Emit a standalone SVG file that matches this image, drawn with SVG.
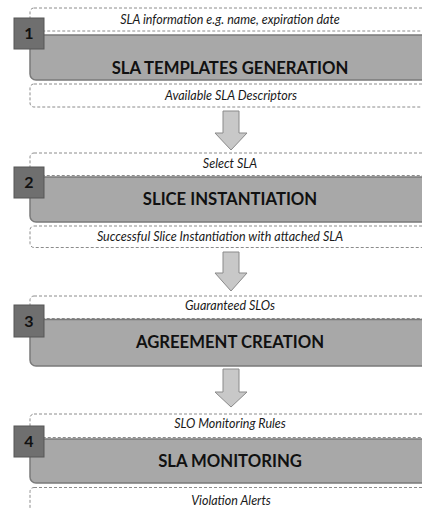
<svg xmlns="http://www.w3.org/2000/svg" width="422" height="508" viewBox="0 0 422 508">
  <style>
    .io { fill: #ffffff; stroke: #8c8c8c; stroke-width: 1; stroke-dasharray: 3 2; }
    .stage { fill: #a8a8a8; stroke: #7a7a7a; stroke-width: 1.5; }
    .num { fill: #6f6f6f; stroke: #565656; stroke-width: 1; }
    .arrow { fill: #c8c8c8; stroke: #8a8a8a; stroke-width: 1; }
    .note { font-family: Lato, "Liberation Sans", sans-serif; font-style: italic; font-size: 12.5px; fill: #1a1a1a; text-anchor: middle; }
    .title { font-family: Lato, "Liberation Sans", sans-serif; font-weight: bold; font-size: 16.7px; fill: #111111; text-anchor: middle; }
    .digit { font-family: Lato, "Liberation Sans", sans-serif; font-weight: bold; font-size: 16px; fill: #111111; text-anchor: middle; }
  </style>
  <rect width="422" height="508" fill="#ffffff"/>

  <!-- flow arrows between stages -->
  <g id="connectors">
    <polygon class="arrow" points="223,111 239,111 239,133 247,133 231,150 215,133 223,133"/>
    <polygon class="arrow" points="223,252 239,252 239,273 247,273 231,291 215,273 223,273"/>
    <polygon class="arrow" points="223,369 239,369 239,392 247,392 231,407 215,392 223,392"/>
  </g>

  <!-- stage 1 -->
  <g id="stage1">
    <rect class="io" x="30" y="8" width="410" height="23" rx="4"/>
    <text class="note" x="230" y="24">SLA information e.g. name, expiration date</text>
    <rect class="stage" x="30" y="35" width="410" height="45" rx="6"/>
    <text class="title" x="230" y="74">SLA TEMPLATES GENERATION</text>
    <rect class="io" x="30" y="84" width="410" height="23" rx="4"/>
    <text class="note" x="231" y="100">Available SLA Descriptors</text>
    <rect class="num" x="14" y="18" width="30" height="31"/>
    <text class="digit" x="29" y="39">1</text>
  </g>

  <!-- stage 2 -->
  <g id="stage2">
    <rect class="io" x="30" y="153" width="410" height="22.5" rx="4"/>
    <text class="note" x="230" y="168">Select SLA</text>
    <rect class="stage" x="30" y="177" width="410" height="45" rx="6"/>
    <text class="title" x="230" y="205">SLICE INSTANTIATION</text>
    <rect class="io" x="30" y="226" width="410" height="21.5" rx="4"/>
    <text class="note" x="220" y="241">Successful Slice Instantiation with attached SLA</text>
    <rect class="num" x="14" y="167" width="30" height="31"/>
    <text class="digit" x="29" y="188">2</text>
  </g>

  <!-- stage 3 -->
  <g id="stage3">
    <rect class="io" x="30" y="296" width="410" height="22.5" rx="4"/>
    <text class="note" x="230" y="310">Guaranteed SLOs</text>
    <rect class="stage" x="30" y="319.5" width="410" height="46.5" rx="6"/>
    <text class="title" x="230" y="348">AGREEMENT CREATION</text>
    <rect class="num" x="14" y="305" width="30" height="32"/>
    <text class="digit" x="29" y="327">3</text>
  </g>

  <!-- stage 4 -->
  <g id="stage4">
    <rect class="io" x="30" y="414" width="410" height="23.5" rx="4"/>
    <text class="note" x="230" y="428">SLO Monitoring Rules</text>
    <rect class="stage" x="30" y="439" width="410" height="44" rx="6"/>
    <text class="title" x="230" y="467">SLA MONITORING</text>
    <rect class="io" x="30" y="487.5" width="410" height="40" rx="4"/>
    <text class="note" x="231" y="505">Violation Alerts</text>
    <rect class="num" x="14" y="426" width="30" height="31"/>
    <text class="digit" x="29" y="447">4</text>
  </g>
</svg>
